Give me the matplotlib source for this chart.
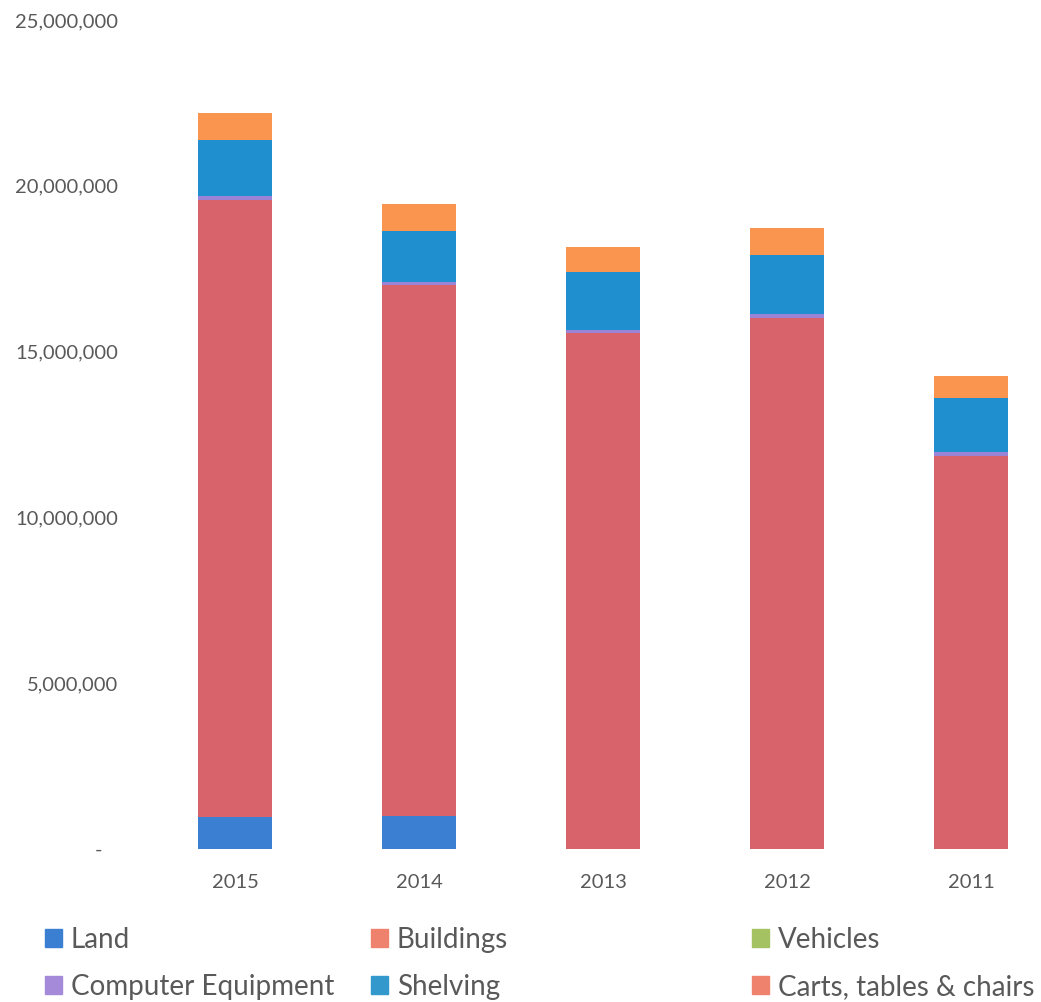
import matplotlib
matplotlib.use("Agg")
from matplotlib import pyplot as plt
from matplotlib.patches import Patch
from matplotlib.ticker import FuncFormatter

years = ["2015", "2014", "2013", "2012", "2011"]
land = [960000, 1000000, 0, 0, 0]
buildings = [18620000, 16020000, 15560000, 16020000, 11860000]
vehicles = [0, 0, 0, 0, 0]
computer = [100000, 80000, 100000, 120000, 100000]
shelving = [1710000, 1540000, 1750000, 1780000, 1650000]
carts = [810000, 820000, 750000, 810000, 640000]

series = [
    ("Land", land, "#3a7fd2", "#3a7fd2"),
    ("Buildings", buildings, "#d9636a", "#ee826c"),
    ("Vehicles", vehicles, "#a5c263", "#a5c263"),
    ("Computer Equipment", computer, "#9b84d6", "#a48ad8"),
    ("Shelving", shelving, "#1f8fd0", "#3399cc"),
    ("Carts, tables & chairs", carts, "#fa9550", "#ee826c"),
]

plt.rcParams["font.family"] = ["Lato", "DejaVu Sans"]

fig = plt.figure(figsize=(10.41, 10.02), dpi=100)
ax = fig.add_axes([143 / 1041, 1 - 849 / 1002, (1041 - 143) / 1041, (849 - 20) / 1002])

x = list(range(len(years)))
bottom = [0] * len(years)
for name, vals, col, _ in series:
    ax.bar(x, vals, width=0.4, bottom=bottom, color=col, linewidth=0)
    bottom = [b + v for b, v in zip(bottom, vals)]

ax.set_xlim(-0.5, 4.38)
ax.set_ylim(0, 25000000)
ax.set_yticks([0, 5000000, 10000000, 15000000, 20000000, 25000000])
ax.yaxis.set_major_formatter(FuncFormatter(lambda v, p: "-   " if v == 0 else "{:,.0f}".format(v)))
ax.set_xticks(x)
ax.set_xticklabels(years)
ax.tick_params(axis="y", length=0, pad=18, labelsize=14.5, labelcolor="#595959")
ax.tick_params(axis="x", length=0, pad=18, labelsize=14.5, labelcolor="#595959")
for s in ax.spines.values():
    s.set_visible(False)

# legend laid out as three fixed columns of two entries
cols = [(0, 3, 45), (1, 4, 371), (2, 5, 752)]
for i, j, px in cols:
    handles = [Patch(color=series[k][3]) for k in (i, j)]
    labels = [series[k][0] for k in (i, j)]
    leg = fig.legend(handles, labels, loc="upper left",
                     bbox_to_anchor=(px / 1041, 1 - 927 / 1002),
                     frameon=False, fontsize=20, handlelength=0.6, handleheight=0.6,
                     handletextpad=0.33, labelspacing=0.75, borderpad=0, borderaxespad=0)
    for t in leg.get_texts():
        t.set_color("#595959")

fig.savefig("out.png", dpi=100)
